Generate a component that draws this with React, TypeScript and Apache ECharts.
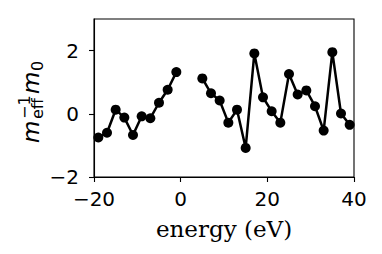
import React, { useEffect, useRef } from "react";
import * as echarts from "echarts";

const energy1 = [-19, -17, -15, -13, -11, -9, -7, -5, -3, -1];
const mass1 = [-0.75, -0.6, 0.13, -0.12, -0.67, -0.08, -0.14, 0.35, 0.76, 1.32];
const energy2 = [5, 7, 9, 11, 13, 15, 17, 19, 21, 23, 25, 27, 29, 31, 33, 35, 37, 39];
const mass2 = [1.12, 0.65, 0.42, -0.28, 0.13, -1.08, 1.91, 0.52, 0.08, -0.28, 1.26, 0.61, 0.74, 0.24, -0.53, 1.95, 0.01, -0.35];
const xTicks = [-20, 0, 20, 40];
const yTicks = [-2, 0, 2];
const xLabel = "energy (eV)";

const SANS = "DejaVu Sans";
const SERIF = "DejaVu Serif";
const BL = 0.346; // alphabetic baseline offset from 'middle' (em)

function fmt(v: number) {
  return String(v).replace("-", "\u2212");
}

export default function App() {
  const ref = useRef<HTMLDivElement>(null);
  useEffect(() => {
    if (!ref.current) return;
    const chart = echarts.init(ref.current, null, { renderer: "svg" });
    const lineSeries = (xs: number[], ys: number[]) => ({
      type: "line",
      data: xs.map((x, i) => [x, ys[i]]),
      symbol: "circle",
      symbolSize: 10,
      clip: false,
      lineStyle: { color: "#000", width: 2.5 },
      itemStyle: { color: "#000", borderWidth: 0 },
    });
    const big = 23;
    const small = 16;
    const piece = (text: string, x: number, base: number, size: number, italic = false) => ({
      type: "text",
      x,
      y: base - BL * size,
      style: {
        text,
        fontFamily: SANS,
        fontSize: size,
        fontStyle: italic ? "italic" : "normal",
        fill: "#000",
        align: "left",
        verticalAlign: "middle",
      },
    });
    const axisCommon = {
      splitLine: { show: false },
      axisLine: { show: true, onZero: false, lineStyle: { color: "#000", width: 1.1 } },
    };
    chart.setOption({
      animation: false,
      backgroundColor: "#fff",
      grid: {
        left: 94,
        top: 19,
        width: 260,
        height: 158,
        show: true,
        borderColor: "#000",
        borderWidth: 1.1,
        containLabel: false,
      },
      xAxis: {
        type: "value",
        min: -20,
        max: 40,
        interval: 20,
        ...axisCommon,
        axisTick: { show: true, length: 5, lineStyle: { color: "#000", width: 1.1 }, customValues: xTicks },
        axisLabel: {
          color: "#000",
          fontFamily: SANS,
          fontSize: 20,
          margin: 12,
          customValues: xTicks,
          formatter: (v: number) => fmt(v),
        },
      },
      yAxis: {
        type: "value",
        min: -2,
        max: 3,
        interval: 2,
        ...axisCommon,
        axisTick: { show: true, length: 5, lineStyle: { color: "#000", width: 1.1 }, customValues: yTicks },
        axisLabel: {
          color: "#000",
          fontFamily: SANS,
          fontSize: 20,
          margin: 15,
          customValues: yTicks,
          formatter: (v: number) => fmt(v),
        },
      },
      graphic: [
        {
          type: "text",
          x: 224,
          y: 237 - BL * big,
          style: {
            text: xLabel,
            fontFamily: SERIF,
            fontSize: big,
            fill: "#000",
            align: "center",
            verticalAlign: "middle",
          },
        },
        {
          type: "group",
          x: 39,
          y: 143,
          rotation: Math.PI / 2,
          children: [
            piece("m", 0, 0, big, true),
            piece("\u22121", 24, -9, small),
            piece("eff", 24, 4, small),
            piece("m", 49, 0, big, true),
            piece("0", 72, 4, small),
          ],
        },
      ],
      series: [lineSeries(energy1, mass1), lineSeries(energy2, mass2)],
    });
    return () => chart.dispose();
  }, []);
  return (
    <div
      ref={ref}
      style={{ position: "fixed", left: 0, top: 0, width: 382, height: 254, background: "#fff" }}
    />
  );
}
